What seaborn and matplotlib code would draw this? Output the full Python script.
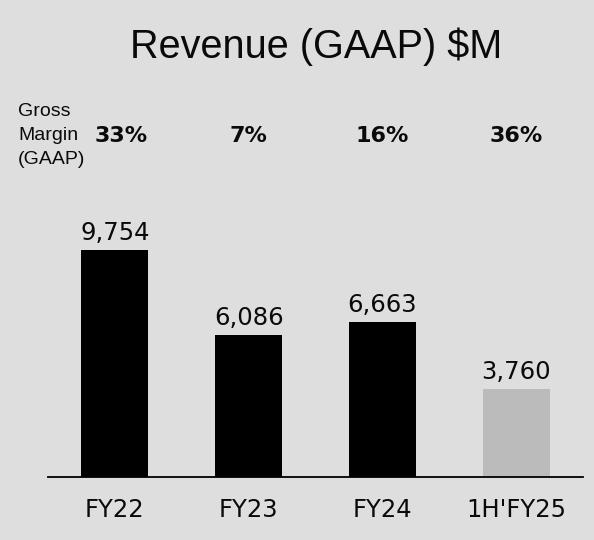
import matplotlib
matplotlib.use("Agg")
import matplotlib.pyplot as plt
import matplotlib.transforms as mtransforms
import seaborn as sns
import pandas as pd

categories = ["FY22", "FY23", "FY24", "1H'FY25"]
revenue = [9754, 6086, 6663, 3760]
revenue_labels = ["9,754", "6,086", "6,663", "3,760"]
gross_margin = ["33%", "7%", "16%", "36%"]
bar_colors = ["#000000", "#000000", "#000000", "#BBBBBB"]

BG = "#DEDEDE"

sns.set_theme(style="white")
plt.rcParams["font.family"] = ["DejaVu Sans"]

fig = plt.figure(figsize=(5.94, 5.40), dpi=100)
fig.patch.set_facecolor(BG)

W, H = 594, 540
ax_left, ax_right, ax_bottom = 48, 583, 477
ymax = 12000
px_per_unit = 227 / 9754
ax_h = ymax * px_per_unit
ax = fig.add_axes([ax_left / W, (H - ax_bottom) / H, (ax_right - ax_left) / W, ax_h / H])
ax.set_facecolor(BG)

df = pd.DataFrame({"cat": categories, "rev": revenue})
sns.barplot(data=df, x="cat", y="rev", hue="cat", order=categories, hue_order=categories,
            palette=dict(zip(categories, bar_colors)), width=0.5, legend=False,
            saturation=1, linewidth=0, edgecolor="none", ax=ax)

ax.set_xlim(-0.5, 3.5)
ax.set_ylim(0, ymax)
ax.set_xlabel("")
ax.set_ylabel("")
ax.set_yticks([])
for s in ["left", "right", "top"]:
    ax.spines[s].set_visible(False)
ax.spines["bottom"].set_color("black")
ax.spines["bottom"].set_linewidth(1.3)
ax.tick_params(axis="x", length=0, pad=15, labelsize=17.5, labelcolor="#0A0A0A")

for i, (v, lab) in enumerate(zip(revenue, revenue_labels)):
    ax.annotate(lab, xy=(i, v), xytext=(0, 7.5), textcoords="offset points",
                ha="center", va="baseline", fontsize=17.5, color="#0A0A0A")

trans = mtransforms.blended_transform_factory(ax.transData, fig.transFigure)
for i, gm in enumerate(gross_margin):
    dx = 0.05 if i == 0 else 0.0
    ax.text(i + dx, 1 - 136 / H, gm, transform=trans, ha="center", va="center",
            fontsize=16, fontweight="bold", color="#0A0A0A")

for line, yc in zip(["Gross", "Margin", "(GAAP)"], [111.5, 136, 160]):
    fig.text(18 / W, 1 - yc / H, line, ha="left", va="center", fontsize=14,
             family=["Liberation Sans", "DejaVu Sans"], color="#0A0A0A")

fig.text(316 / W, 1 - 47 / H, "Revenue (GAAP) $M", ha="center", va="center",
         fontsize=28.5, family=["Liberation Sans", "DejaVu Sans"], color="#0A0A0A")

fig.savefig("out.png", dpi=100, facecolor=BG)
